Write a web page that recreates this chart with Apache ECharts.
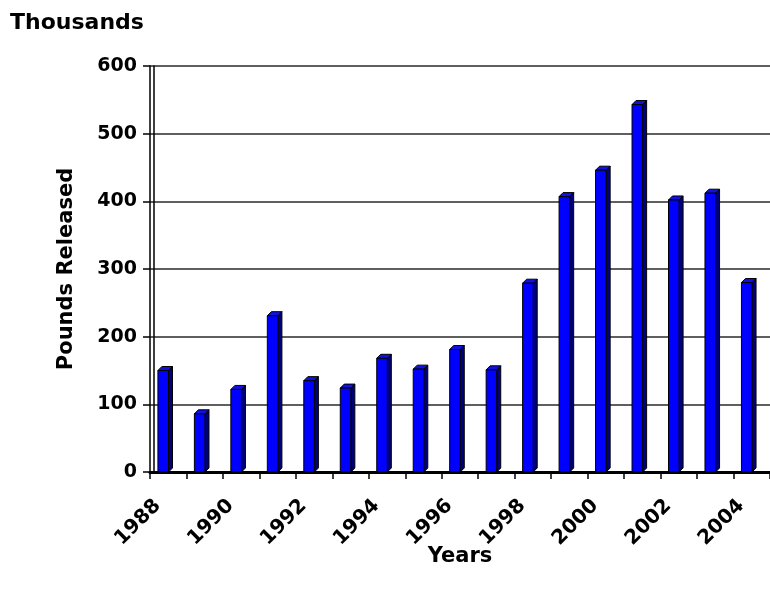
<!DOCTYPE html>
<html>
<head>
<meta charset="utf-8">
<script src="https://cdn.jsdelivr.net/npm/echarts@6/dist/echarts.min.js"></script>
<style>
  html, body { margin: 0; padding: 0; background: #fff; }
  #chart { width: 770px; height: 595px; }
</style>
</head>
<body>
<div id="chart"></div>
<script>
// Annual releases, thousands of pounds
const years = ['1988','1989','1990','1991','1992','1993','1994','1995','1996',
               '1997','1998','1999','2000','2001','2002','2003','2004'];
const released = [150, 86, 122, 231, 135, 124, 168, 152, 181,
                  151, 279, 407, 446, 543, 402, 412, 280];
const yTicks = [0, 100, 200, 300, 400, 500, 600];

const FONT = 'DejaVu Sans';
const chart = echarts.init(document.getElementById('chart'), null, { renderer: 'canvas' });

// Column with a front face, a shaded side and a top, in the style of a 3-D bar chart
function renderColumn(params, api) {
  const idx = api.value(0);
  const v = api.value(1);
  const top = api.coord([idx, v]);
  const base = api.coord([idx, 0]);
  const band = api.size([1, 0])[0];
  const x0 = top[0] - band * 0.283;
  const x1 = x0 + band * 0.29;
  const d = band * 0.11;
  const yt = top[1];
  const yb = base[1];
  const edge = { stroke: '#000', lineWidth: 1 };
  return {
    type: 'group',
    children: [
      { type: 'polygon',
        shape: { points: [[x1, yb], [x1, yt], [x1 + d, yt - d], [x1 + d, yb - d]] },
        style: Object.assign({ fill: '#00007a' }, edge) },
      { type: 'polygon',
        shape: { points: [[x0, yt], [x1, yt], [x1 + d, yt - d], [x0 + d, yt - d]] },
        style: Object.assign({ fill: '#1010e0' }, edge) },
      { type: 'rect',
        shape: { x: x0, y: yt, width: x1 - x0, height: yb - yt },
        style: Object.assign({ fill: '#0000ff' }, edge) }
    ]
  };
}

chart.setOption({
  animation: false,
  backgroundColor: '#fff',
  title: {
    text: 'Thousands',
    left: 5, top: 7,
    textStyle: { fontFamily: FONT, fontWeight: 'bold', fontSize: 22, color: '#000' }
  },
  grid: { left: 150, right: -5, top: 66, bottom: 123, containLabel: false },
  xAxis: [{
    type: 'category',
    data: years,
    name: 'Years',
    nameLocation: 'middle',
    nameGap: 74,
    nameMoveOverlap: false,
    nameTextStyle: { fontFamily: FONT, fontWeight: 'bold', fontSize: 21, color: '#000' },
    axisLine: { lineStyle: { color: '#000', width: 3 } },
    axisTick: { show: true, interval: 0, length: 7, lineStyle: { color: '#000', width: 1.5 } },
    axisLabel: {
      interval: 1, rotate: 45, margin: 20,
      padding: [0, 15, 12, 0],
      fontFamily: FONT, fontWeight: 'bold', fontSize: 20, color: '#000'
    },
    splitLine: { show: false }
  }, {
    // frame edge along the top of the back wall
    type: 'category',
    data: years,
    position: 'top',
    axisLine: { lineStyle: { color: '#000', width: 2.5 } },
    axisTick: { show: false },
    axisLabel: { show: false }
  }],
  yAxis: [{
    type: 'value',
    min: 0, max: 600, interval: 100,
    name: 'Pounds Released',
    nameLocation: 'middle',
    nameGap: 73,
    nameMoveOverlap: false,
    nameTextStyle: { fontFamily: FONT, fontWeight: 'bold', fontSize: 21, color: '#000' },
    axisLine: { show: true, lineStyle: { color: '#000', width: 1.5 } },
    axisTick: { show: true, length: 7, lineStyle: { color: '#000', width: 1.5 } },
    axisLabel: {
      margin: 13,
      fontFamily: FONT, fontWeight: 'bold', fontSize: 19, color: '#000',
      formatter: (val) => (yTicks.indexOf(val) >= 0 ? String(val) : '')
    },
    splitLine: { show: true, lineStyle: { color: '#2a2a2a', width: 1.6 } }
  }, {
    // inner edge of the back wall
    type: 'value',
    min: 0, max: 600, interval: 100,
    position: 'left',
    offset: -3.5,
    axisLine: { show: true, lineStyle: { color: '#000', width: 1.5 } },
    axisTick: { show: false },
    axisLabel: { show: false },
    splitLine: { show: false }
  }],
  series: [{
    type: 'custom',
    xAxisIndex: 0,
    yAxisIndex: 0,
    renderItem: renderColumn,
    encode: { x: 0, y: 1 },
    data: years.map((y, i) => [i, released[i]]),
    z: 3
  }]
});
</script>
</body>
</html>
